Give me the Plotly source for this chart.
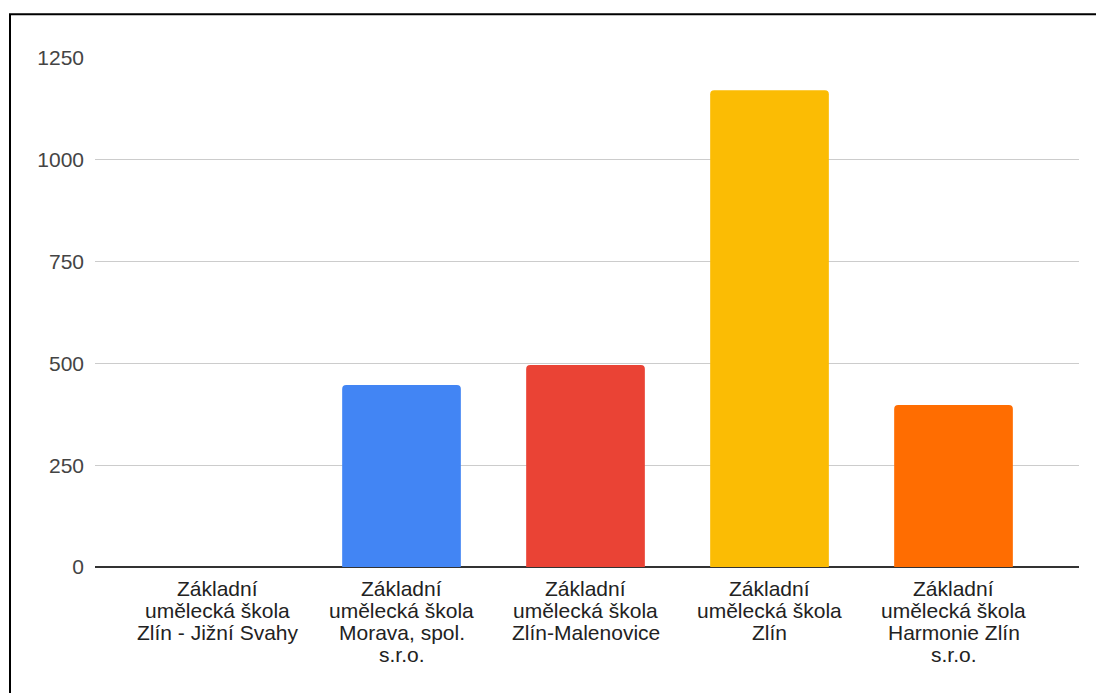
import plotly.graph_objects as go

categories = [
    "Základní umělecká škola Zlín - Jižní Svahy",
    "Základní umělecká škola Morava, spol. s.r.o.",
    "Základní umělecká škola Zlín-Malenovice",
    "Základní umělecká škola Zlín",
    "Základní umělecká škola Harmonie Zlín s.r.o.",
]
tick_labels = [
    ["Základní", "umělecká škola", "Zlín - Jižní Svahy"],
    ["Základní", "umělecká škola", "Morava, spol.", "s.r.o."],
    ["Základní", "umělecká škola", "Zlín-Malenovice"],
    ["Základní", "umělecká škola", "Zlín"],
    ["Základní", "umělecká škola", "Harmonie Zlín", "s.r.o."],
]
values = [0, 447, 496, 1171, 398]
colors = ["#34A853", "#4285F4", "#EA4335", "#FBBC04", "#FF6D01"]
y_ticks = [0, 250, 500, 750, 1000, 1250]

FONT = "Liberation Sans, Arial, sans-serif"

fig = go.Figure(
    go.Bar(
        x=categories,
        y=values,
        marker=dict(color=colors, line=dict(width=0), cornerradius=4),
        hoverinfo="x+y",
    )
)

annotations = []
for cat, lines in zip(categories, tick_labels):
    for k, line in enumerate(lines):
        annotations.append(
            dict(
                x=cat, y=0, xref="x", yref="y",
                text=line, showarrow=False,
                yanchor="middle", xanchor="center",
                yshift=-(21 + 22.3 * k),
                font=dict(family=FONT, size=21, color="#222222"),
            )
        )

fig.update_layout(
    width=1096,
    height=693,
    margin=dict(l=95, r=17, t=58, b=126, pad=0),
    paper_bgcolor="white",
    plot_bgcolor="white",
    bargap=0.355,
    showlegend=False,
    font=dict(family=FONT, size=21, color="#444444"),
    xaxis=dict(
        type="category",
        range=[-0.6658, 4.682],
        showticklabels=False,
        showgrid=False,
        ticks="",
        showline=False,
        fixedrange=True,
    ),
    yaxis=dict(
        range=[0, 1250],
        tickvals=y_ticks,
        ticktext=[str(v) for v in y_ticks],
        showgrid=True,
        gridcolor="#cccccc",
        gridwidth=1,
        zeroline=True,
        zerolinecolor="#333333",
        zerolinewidth=1.5,
        showline=False,
        ticks="",
        ticklabelstandoff=10,
        tickfont=dict(family=FONT, size=21, color="#444444"),
        fixedrange=True,
    ),
    annotations=annotations,
    shapes=[
        dict(
            type="rect", xref="paper", yref="paper",
            x0=(10 - 95) / 984, x1=1.1,
            y0=-0.3, y1=(567 - 14.3) / 509,
            line=dict(color="black", width=2),
            fillcolor="rgba(0,0,0,0)",
            layer="above",
        )
    ],
)

fig.write_html(
    "out.html",
    config={"displayModeBar": False},
    post_script="document.body.style.margin='0';",
)
